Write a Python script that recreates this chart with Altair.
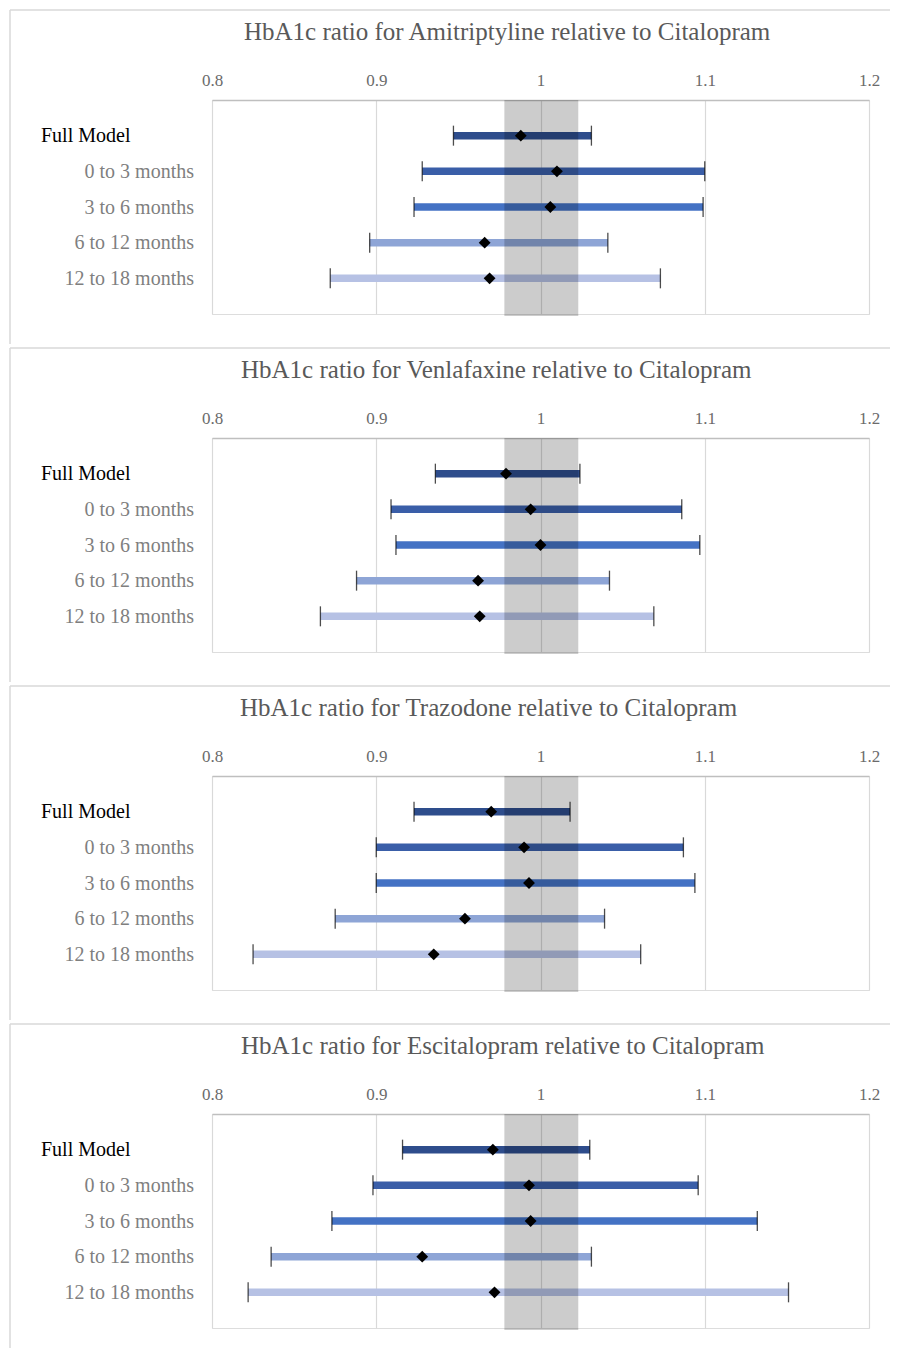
import altair as alt
import pandas as pd

# ---------------- data ----------------
rows = ["Full Model", "0 to 3 months", "3 to 6 months", "6 to 12 months", "12 to 18 months"]
row_pos = [1, 2, 3, 4, 5]
drugs = ["Amitriptyline", "Venlafaxine", "Trazodone", "Escitalopram"]

amitriptyline_low = [0.947, 0.928, 0.923, 0.896, 0.872]
amitriptyline_high = [1.031, 1.100, 1.099, 1.041, 1.073]
amitriptyline_est = [0.988, 1.010, 1.006, 0.966, 0.969]

venlafaxine_low = [0.936, 0.909, 0.912, 0.888, 0.866]
venlafaxine_high = [1.024, 1.086, 1.097, 1.042, 1.069]
venlafaxine_est = [0.979, 0.994, 1.000, 0.962, 0.963]

trazodone_low = [0.923, 0.900, 0.900, 0.875, 0.825]
trazodone_high = [1.018, 1.087, 1.094, 1.039, 1.061]
trazodone_est = [0.970, 0.990, 0.993, 0.954, 0.935]

escitalopram_low = [0.916, 0.898, 0.873, 0.836, 0.822]
escitalopram_high = [1.030, 1.096, 1.132, 1.031, 1.151]
escitalopram_est = [0.971, 0.993, 0.994, 0.928, 0.972]

band_range = [0.978, 1.023]
x_ticks = [0.8, 0.9, 1.0, 1.1, 1.2]

# ---------------- styles ----------------
bar_colors = ["#2e4d8c", "#3a5ea8", "#4472c4", "#8ea5d6", "#b6c1e4"]
FONT = "Liberation Serif"
title_x = [32, 29, 28, 29]

W, H = 657, 214


def panel(drug, low, high, est, tx, last=False):
    df = pd.DataFrame({"row": rows, "pos": row_pos, "low": low, "high": high, "est": est})
    base = alt.Chart(df)
    xs = alt.Scale(domain=[0.8, 1.2], nice=False, zero=False)
    ys = alt.Scale(domain=[0, 6], reverse=True, nice=False, zero=False)
    xaxis = alt.Axis(
        orient="top", values=x_ticks, format="~g", grid=True,
        gridColor="#d9d9d9", gridWidth=1.2, domainColor="#bfbfbf", domainWidth=1.6,
        ticks=False, tickSize=0, labelPadding=11, labelFont=FONT, labelFontSize=17,
        labelColor="#6b6b6b", title=None, labelFlush=False,
    )

    def X(f):
        return alt.X(f, scale=xs, axis=xaxis)

    Y = alt.Y("pos:Q", scale=ys, axis=None)

    bars = base.mark_rule(strokeWidth=7.5, strokeCap="butt").encode(
        x=X("low:Q"), x2="high:Q", y=Y,
        color=alt.Color("row:N", scale=alt.Scale(domain=rows, range=bar_colors), legend=None),
    )
    cap_lo = base.mark_tick(orient="vertical", size=20, thickness=1.3, color="black").encode(
        x=X("low:Q"), y=Y)
    cap_hi = base.mark_tick(orient="vertical", size=20, thickness=1.3, color="black").encode(
        x=X("high:Q"), y=Y)

    band_df = pd.DataFrame({"lo": [band_range[0]], "hi": [band_range[1]]})
    band = alt.Chart(band_df).mark_rect(color="black", opacity=0.2).encode(
        x=X("lo:Q"), x2="hi:Q", y=alt.value(0), y2=alt.value(216))

    pts = base.mark_point(shape="diamond", filled=True, size=140, color="black", opacity=1).encode(
        x=X("est:Q"), y=Y)

    lab_full = base.transform_filter(alt.datum.pos == 1).mark_text(
        align="left", baseline="alphabetic", dy=6.5, font=FONT, fontSize=20, color="#000000"
    ).encode(text="row:N", x=alt.value(-171), y=Y)
    lab_other = base.transform_filter(alt.datum.pos > 1).mark_text(
        align="right", baseline="alphabetic", dy=6.5, font=FONT, fontSize=20, color="#7f7f7f"
    ).encode(text="row:N", x=alt.value(-18), y=Y)

    title = alt.Chart(alt.Data(values=[{"t": f"HbA1c ratio for {drug} relative to Citalopram"}])).mark_text(
        align="left", baseline="alphabetic", font=FONT, fontSize=25, color="#595959"
    ).encode(text="t:N", x=alt.value(tx), y=alt.value(-60.5))

    one = alt.Data(values=[{"k": 1}])
    top_border = alt.Chart(one).mark_rule(color="#d9d9d9", strokeWidth=1.5).encode(
        x=alt.value(-202), x2=alt.value(678), y=alt.value(-90))
    left_border = alt.Chart(one).mark_rule(color="#d9d9d9", strokeWidth=1.5).encode(
        x=alt.value(-202), y=alt.value(-90), y2=alt.value(234 if last else 243.9))

    return alt.layer(
        top_border, left_border, bars, cap_lo, cap_hi, band, pts, lab_full, lab_other, title
    ).properties(width=W, height=H)


panels = [
    panel(drugs[0], amitriptyline_low, amitriptyline_high, amitriptyline_est, title_x[0]),
    panel(drugs[1], venlafaxine_low, venlafaxine_high, venlafaxine_est, title_x[1]),
    panel(drugs[2], trazodone_low, trazodone_high, trazodone_est, title_x[2]),
    panel(drugs[3], escitalopram_low, escitalopram_high, escitalopram_est, title_x[3], last=True),
]

chart = alt.vconcat(*panels, spacing=0).properties(
    padding={"left": 0, "top": 0, "right": 0, "bottom": 0},
    background="white",
).configure_view(strokeWidth=0).configure(font=FONT)

chart.save("out.html", embed_options={"renderer": "svg", "actions": False})
